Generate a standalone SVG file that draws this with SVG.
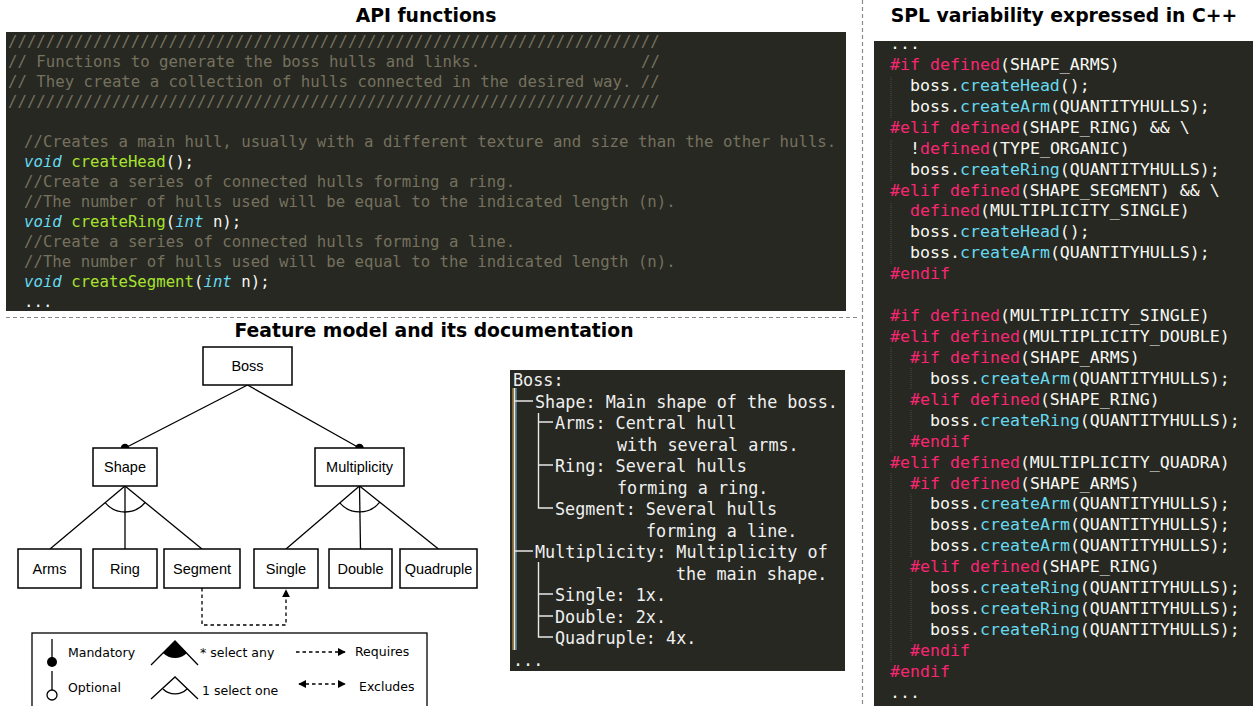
<svg xmlns="http://www.w3.org/2000/svg" width="1253" height="706" viewBox="0 0 1253 706">
<style>
.ttl{font-family:"DejaVu Sans",Verdana,sans-serif;font-weight:bold;font-size:18.8px;fill:#000;text-anchor:middle}
.panel{fill:#272822}
.api{font-family:"DejaVu Sans Mono","Liberation Mono",monospace;font-size:15.7px;fill:#f8f8f2}
.cpp{font-family:"DejaVu Sans Mono","Liberation Mono",monospace;font-size:16.6px;fill:#f8f8f2}
.doc{font-family:"DejaVu Sans Mono","Liberation Mono",monospace;font-size:16.78px;fill:#f0f0f0}
.cm{fill:#75715e}
.ty{fill:#66d9ef;font-style:italic}
.fg{fill:#a6e22e}
.kw{fill:#f92672}
.fc{fill:#66d9ef}
.sep{stroke:#8a8a8a;stroke-width:1.2;stroke-dasharray:4 3;fill:none}
.box{fill:#fff;stroke:#000;stroke-width:1.5}
.lbl{font-family:"Liberation Sans",Arial,sans-serif;font-size:14.5px;fill:#000;text-anchor:middle}
.edge{stroke:#000;stroke-width:1.3;fill:none}
.dash{stroke:#000;stroke-width:1.3;fill:none;stroke-dasharray:3.5 3}
.leg{font-family:"DejaVu Sans",Verdana,sans-serif;font-size:12.5px;fill:#000}
.tree{stroke:#e8e8e8;stroke-width:1.4;fill:none}
.guide{stroke:#4a4a42;stroke-width:1;stroke-dasharray:1 1;fill:none}
</style>
<defs>
<marker id="ah" viewBox="0 0 10 10" refX="9" refY="5" markerWidth="8" markerHeight="8" markerUnits="userSpaceOnUse" orient="auto-start-reverse">
<path d="M0,0 L10,5 L0,10 Z" fill="#000"/>
</marker>
</defs>
<rect width="1253" height="706" fill="#fff"/>

<!-- separators -->
<line class="sep" x1="6" y1="317.5" x2="858" y2="317.5"/>
<line class="sep" x1="862.5" y1="0" x2="862.5" y2="706"/>

<!-- titles -->
<text class="ttl" x="426" y="22">API functions</text>
<text class="ttl" x="1064" y="22">SPL variability expressed in C++</text>
<text class="ttl" x="434" y="336.5">Feature model and its documentation</text>

<!-- API panel -->
<g id="api-panel">
<rect class="panel" x="6" y="32" width="840" height="279"/>
<text class="api cm" x="8" y="47">/////////////////////////////////////////////////////////////////////</text>
<text class="api cm" x="8" y="67">// Functions to generate the boss hulls and links.</text>
<text class="api cm" x="641" y="67">//</text>
<text class="api cm" x="8" y="87">// They create a collection of hulls connected in the desired way. //</text>
<text class="api cm" x="8" y="107">/////////////////////////////////////////////////////////////////////</text>
<text class="api cm" x="24" y="147">//Creates a main hull, usually with a different texture and size than the other hulls.</text>
<text class="api" x="24" y="167"><tspan class="ty">void</tspan><tspan class="fg"> createHead</tspan><tspan>();</tspan></text>
<text class="api cm" x="24" y="187">//Create a series of connected hulls forming a ring.</text>
<text class="api cm" x="24" y="207">//The number of hulls used will be equal to the indicated length (n).</text>
<text class="api" x="24" y="227"><tspan class="ty">void</tspan><tspan class="fg"> createRing</tspan><tspan>(</tspan><tspan class="ty">int</tspan><tspan> n);</tspan></text>
<text class="api cm" x="24" y="247">//Create a series of connected hulls forming a line.</text>
<text class="api cm" x="24" y="267">//The number of hulls used will be equal to the indicated length (n).</text>
<text class="api" x="24" y="287"><tspan class="ty">void</tspan><tspan class="fg"> createSegment</tspan><tspan>(</tspan><tspan class="ty">int</tspan><tspan> n);</tspan></text>
<text class="api" x="24" y="307">...</text>
</g>

<!-- Feature model connectors -->
<g id="connectors">
<line class="edge" x1="247.5" y1="385" x2="125" y2="448"/>
<line class="edge" x1="247.5" y1="385" x2="359.5" y2="448"/>
<circle cx="125" cy="448" r="4.2" fill="#000"/>
<circle cx="359.5" cy="448" r="4.2" fill="#000"/>
<line class="edge" x1="125" y1="486" x2="50" y2="549"/>
<line class="edge" x1="125" y1="486" x2="125" y2="549"/>
<line class="edge" x1="125" y1="486" x2="202" y2="549"/>
<path class="edge" d="M105.1,502.7 A26,26 0 0,0 145.1,502.5"/>
<line class="edge" x1="359.5" y1="486" x2="286" y2="549"/>
<line class="edge" x1="359.5" y1="486" x2="360.5" y2="549"/>
<line class="edge" x1="359.5" y1="486" x2="438.5" y2="549"/>
<path class="edge" d="M339.8,502.9 A26,26 0 0,0 379.8,502.2"/>
<path class="dash" d="M202,588 V625 H286 V590" marker-end="url(#ah)"/>
</g>

<!-- Feature model nodes -->
<g id="n-boss"><rect class="box" x="203" y="347" width="89" height="38"/><text class="lbl" x="247.5" y="371">Boss</text></g>
<g id="n-shape"><rect class="box" x="93" y="448" width="64" height="38"/><text class="lbl" x="125" y="472">Shape</text></g>
<g id="n-multiplicity"><rect class="box" x="315" y="448" width="89" height="38"/><text class="lbl" x="359.5" y="472">Multiplicity</text></g>
<g id="n-arms"><rect class="box" x="18" y="549" width="63" height="39"/><text class="lbl" x="49.5" y="573.5">Arms</text></g>
<g id="n-ring"><rect class="box" x="93" y="549" width="64" height="39"/><text class="lbl" x="125" y="573.5">Ring</text></g>
<g id="n-segment"><rect class="box" x="164" y="549" width="76" height="39"/><text class="lbl" x="202" y="573.5">Segment</text></g>
<g id="n-single"><rect class="box" x="254" y="549" width="64" height="39"/><text class="lbl" x="286" y="573.5">Single</text></g>
<g id="n-double"><rect class="box" x="329" y="549" width="63" height="39"/><text class="lbl" x="360.5" y="573.5">Double</text></g>
<g id="n-quadruple"><rect class="box" x="400" y="549" width="77" height="39"/><text class="lbl" x="438.5" y="573.5">Quadruple</text></g>

<!-- Legend -->
<g id="legend">
<rect x="32" y="633" width="395" height="80" fill="#fff" stroke="#000" stroke-width="1.3"/>
<line class="edge" x1="52" y1="639" x2="52" y2="658"/>
<circle cx="52" cy="662" r="5" fill="#000"/>
<text class="leg" x="68" y="656.5">Mandatory</text>
<line class="edge" x1="52" y1="671" x2="52" y2="690"/>
<circle cx="52" cy="695" r="5" fill="#fff" stroke="#000" stroke-width="1.3"/>
<text class="leg" x="68" y="691.5">Optional</text>
<path class="edge" d="M151,665 L175,641 L198,665"/>
<path d="M175,641 L163,653 A17,17 0 0,0 187,653 Z" fill="#000"/>
<text class="leg" x="200" y="656.5">* select any</text>
<path class="edge" d="M151,699 L175,677 L198,699"/>
<path class="edge" d="M163,689 A17,17 0 0,0 187,689"/>
<text class="leg" x="202" y="694.5">1 select one</text>
<line class="dash" x1="296" y1="652" x2="345" y2="652" marker-end="url(#ah)"/>
<text class="leg" x="355" y="656">Requires</text>
<line class="dash" x1="299" y1="684" x2="345" y2="684" marker-start="url(#ah)" marker-end="url(#ah)"/>
<text class="leg" x="359" y="690.5">Excludes</text>
</g>

<!-- Documentation box -->
<g id="doc-panel">
<rect class="panel" x="510" y="370" width="335" height="301"/>
<line x1="513" y1="388" x2="513" y2="650" stroke="#d9a441" stroke-width="1"/>
<line x1="516" y1="388" x2="516" y2="650" stroke="#7fb3d9" stroke-width="1"/>
<path class="tree" d="M514.5,388 V650 M514.5,401 H533 M514.5,551 H533 M538.5,413 V508 H553 M538.5,422 H553 M538.5,465 H553 M538.5,562 V637 H553 M538.5,594 H553 M538.5,616 H553"/>
<text class="doc" x="513" y="385.5">Boss:</text>
<text class="doc" x="535" y="407.5">Shape: Main shape of the boss.</text>
<text class="doc" x="555" y="428.5">Arms: Central hull</text>
<text class="doc" x="617" y="450.5">with several arms.</text>
<text class="doc" x="555" y="471.5">Ring: Several hulls</text>
<text class="doc" x="617" y="493.5">forming a ring.</text>
<text class="doc" x="555" y="514.5">Segment: Several hulls</text>
<text class="doc" x="646" y="536.5">forming a line.</text>
<text class="doc" x="535" y="557.5">Multiplicity: Multiplicity of</text>
<text class="doc" x="676" y="579.5">the main shape.</text>
<text class="doc" x="555" y="600.5">Single: 1x.</text>
<text class="doc" x="555" y="622.5">Double: 2x.</text>
<text class="doc" x="555" y="643.5">Quadruple: 4x.</text>
<text class="doc" x="513" y="665.5">...</text>
</g>

<!-- C++ panel -->
<g id="cpp-panel">
<rect class="panel" x="874" y="41" width="379" height="665"/>
<path class="guide" d="M891,77 V118 M891,140 V181 M891,203 V265 M891,347 V452 M911,368 V390 M911,410 V431 M891,473 V662 M911,494 V557 M911,578 V641"/>
<text class="cpp" x="890" y="49">...</text>
<text class="cpp" x="890" y="70"><tspan class="kw">#if defined</tspan><tspan>(SHAPE_ARMS)</tspan></text>
<text class="cpp" x="910" y="90.9"><tspan>boss.</tspan><tspan class="fc">createHead</tspan><tspan>();</tspan></text>
<text class="cpp" x="910" y="111.8"><tspan>boss.</tspan><tspan class="fc">createArm</tspan><tspan>(QUANTITYHULLS);</tspan></text>
<text class="cpp" x="890" y="132.8"><tspan class="kw">#elif defined</tspan><tspan>(SHAPE_RING) &amp;&amp; \</tspan></text>
<text class="cpp" x="910" y="153.7"><tspan>!</tspan><tspan class="kw">defined</tspan><tspan>(TYPE_ORGANIC)</tspan></text>
<text class="cpp" x="910" y="174.6"><tspan>boss.</tspan><tspan class="fc">createRing</tspan><tspan>(QUANTITYHULLS);</tspan></text>
<text class="cpp" x="890" y="195.5"><tspan class="kw">#elif defined</tspan><tspan>(SHAPE_SEGMENT) &amp;&amp; \</tspan></text>
<text class="cpp" x="910" y="216.4"><tspan class="kw">defined</tspan><tspan>(MULTIPLICITY_SINGLE)</tspan></text>
<text class="cpp" x="910" y="237.4"><tspan>boss.</tspan><tspan class="fc">createHead</tspan><tspan>();</tspan></text>
<text class="cpp" x="910" y="258.3"><tspan>boss.</tspan><tspan class="fc">createArm</tspan><tspan>(QUANTITYHULLS);</tspan></text>
<text class="cpp kw" x="890" y="279.2">#endif</text>
<text class="cpp" x="890" y="321.1"><tspan class="kw">#if defined</tspan><tspan>(MULTIPLICITY_SINGLE)</tspan></text>
<text class="cpp" x="890" y="342"><tspan class="kw">#elif defined</tspan><tspan>(MULTIPLICITY_DOUBLE)</tspan></text>
<text class="cpp" x="910" y="362.9"><tspan class="kw">#if defined</tspan><tspan>(SHAPE_ARMS)</tspan></text>
<text class="cpp" x="930" y="383.9"><tspan>boss.</tspan><tspan class="fc">createArm</tspan><tspan>(QUANTITYHULLS);</tspan></text>
<text class="cpp" x="910" y="404.8"><tspan class="kw">#elif defined</tspan><tspan>(SHAPE_RING)</tspan></text>
<text class="cpp" x="930" y="425.7"><tspan>boss.</tspan><tspan class="fc">createRing</tspan><tspan>(QUANTITYHULLS);</tspan></text>
<text class="cpp kw" x="910" y="446.6">#endif</text>
<text class="cpp" x="890" y="467.6"><tspan class="kw">#elif defined</tspan><tspan>(MULTIPLICITY_QUADRA)</tspan></text>
<text class="cpp" x="910" y="488.5"><tspan class="kw">#if defined</tspan><tspan>(SHAPE_ARMS)</tspan></text>
<text class="cpp" x="930" y="509.4"><tspan>boss.</tspan><tspan class="fc">createArm</tspan><tspan>(QUANTITYHULLS);</tspan></text>
<text class="cpp" x="930" y="530.3"><tspan>boss.</tspan><tspan class="fc">createArm</tspan><tspan>(QUANTITYHULLS);</tspan></text>
<text class="cpp" x="930" y="551.3"><tspan>boss.</tspan><tspan class="fc">createArm</tspan><tspan>(QUANTITYHULLS);</tspan></text>
<text class="cpp" x="910" y="572.2"><tspan class="kw">#elif defined</tspan><tspan>(SHAPE_RING)</tspan></text>
<text class="cpp" x="930" y="593.1"><tspan>boss.</tspan><tspan class="fc">createRing</tspan><tspan>(QUANTITYHULLS);</tspan></text>
<text class="cpp" x="930" y="614"><tspan>boss.</tspan><tspan class="fc">createRing</tspan><tspan>(QUANTITYHULLS);</tspan></text>
<text class="cpp" x="930" y="634.9"><tspan>boss.</tspan><tspan class="fc">createRing</tspan><tspan>(QUANTITYHULLS);</tspan></text>
<text class="cpp kw" x="910" y="655.9">#endif</text>
<text class="cpp kw" x="890" y="676.8">#endif</text>
<text class="cpp" x="890" y="697.7">...</text>
</g>
</svg>
